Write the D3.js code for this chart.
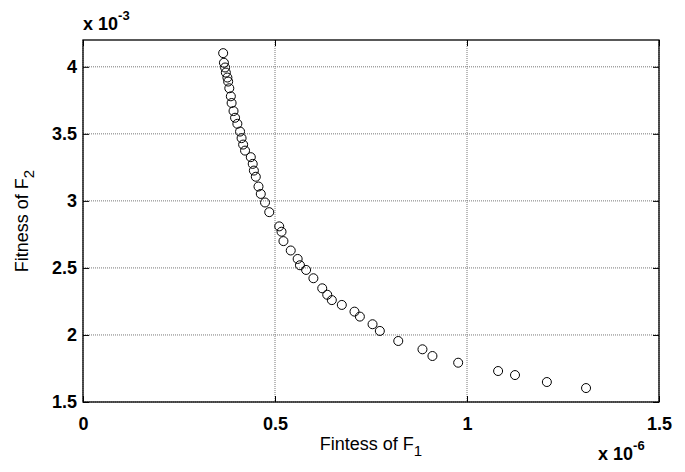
<!DOCTYPE html>
<html>
<head>
<meta charset="utf-8">
<script src="https://cdn.jsdelivr.net/npm/d3@7"></script>
<style>
  body { margin: 0; background: #fff; }
  text { font-family: "Liberation Sans", Arial, sans-serif; }
</style>
</head>
<body>
<div id="chart"></div>
<script>
// data (F1 in 1e-6, F2 in 1e-3)
var f1 = [0.365, 0.367, 0.370, 0.372, 0.376, 0.378, 0.381, 0.385, 0.387, 0.392,
          0.396, 0.402, 0.409, 0.413, 0.417, 0.422, 0.437, 0.442, 0.445, 0.450,
          0.457, 0.463, 0.474, 0.485, 0.511, 0.517, 0.522, 0.541, 0.559, 0.565,
          0.581, 0.600, 0.623, 0.636, 0.648, 0.674, 0.707, 0.721, 0.754, 0.773,
          0.821, 0.884, 0.910, 0.977, 1.081, 1.125, 1.208, 1.310];
var f2 = [4.102, 4.030, 3.995, 3.957, 3.920, 3.890, 3.840, 3.780, 3.730, 3.670,
          3.620, 3.575, 3.517, 3.468, 3.420, 3.375, 3.326, 3.276, 3.226, 3.180,
          3.107, 3.052, 2.988, 2.916, 2.810, 2.770, 2.700, 2.630, 2.567, 2.520,
          2.485, 2.423, 2.348, 2.300, 2.260, 2.224, 2.174, 2.137, 2.080, 2.030,
          1.955, 1.893, 1.843, 1.793, 1.731, 1.701, 1.649, 1.604];
var xTicks = [0, 0.5, 1, 1.5];
var yTicks = [1.5, 2, 2.5, 3, 3.5, 4];

var width = 685,
    height = 472,
    pLeft = 83, pRight = 659, pTop = 40, pBottom = 402;

var svg = d3.select("#chart").append("svg")
    .attr("width", width)
    .attr("height", height)
    .style("background", "#fff");

var x = d3.scaleLinear().domain([0, 1.5]).range([pLeft, pRight]);
var y = d3.scaleLinear().domain([1.5, 4.2]).range([pBottom, pTop]);
var fmt = d3.format("~g");

/* grid */
svg.append("g").selectAll("line.vg")
    .data(xTicks)
  .enter().append("line")
    .attr("x1", function(d){return x(d)}).attr("x2", function(d){return x(d)})
    .attr("y1", pTop).attr("y2", pBottom)
    .attr("stroke", "#777").attr("stroke-dasharray", "1,1");
svg.append("g").selectAll("line.hg")
    .data(yTicks)
  .enter().append("line")
    .attr("y1", function(d){return y(d)}).attr("y2", function(d){return y(d)})
    .attr("x1", pLeft).attr("x2", pRight)
    .attr("stroke", "#777").attr("stroke-dasharray", "1,1");

/* axes with inward ticks */
function styleAxis(g) {
  g.select(".domain").remove();
  g.selectAll(".tick line").attr("stroke", "#000");
  g.selectAll("text")
    .attr("fill", "#000")
    .style("font-size", "18px")
    .style("font-weight", "bold")
    .style("font-family", "'Liberation Sans', Arial, sans-serif");
}
svg.append("g").attr("transform", "translate(0," + pBottom + ")")
    .call(d3.axisBottom(x).tickValues(xTicks).tickSize(-6).tickPadding(15).tickFormat(fmt))
    .call(styleAxis);
svg.append("g").attr("transform", "translate(0," + pTop + ")")
    .call(d3.axisTop(x).tickValues(xTicks).tickSize(-6).tickFormat(""))
    .call(styleAxis);
svg.append("g").attr("transform", "translate(" + pLeft + ",0)")
    .call(d3.axisLeft(y).tickValues(yTicks).tickSize(-6).tickPadding(6).tickFormat(fmt))
    .call(styleAxis);
svg.append("g").attr("transform", "translate(" + pRight + ",0)")
    .call(d3.axisRight(y).tickValues(yTicks).tickSize(-6).tickFormat(""))
    .call(styleAxis);

/* box */
svg.append("rect")
    .attr("x", pLeft).attr("y", pTop)
    .attr("width", pRight - pLeft).attr("height", pBottom - pTop)
    .attr("fill", "none").attr("stroke", "#000").attr("stroke-width", 1.3);

/* points */
svg.append("g").selectAll("circle")
    .data(f1)
  .enter().append("circle")
    .attr("cx", function(d){return x(d)})
    .attr("cy", function(d, i){return y(f2[i])})
    .attr("r", 4.5)
    .attr("fill", "none")
    .attr("stroke", "#000")
    .attr("stroke-width", 1);

/* axis labels */
var xl = svg.append("text")
    .attr("x", (pLeft + pRight) / 2).attr("y", 450)
    .attr("text-anchor", "middle")
    .style("font-size", "18px");
xl.append("tspan").text("Fintess of F");
xl.append("tspan").attr("dy", 6).style("font-size", "15px").text("1");

var yl = svg.append("text")
    .attr("transform", "translate(28," + ((pTop + pBottom) / 2) + ") rotate(-90)")
    .attr("text-anchor", "middle")
    .style("font-size", "18px");
yl.append("tspan").text("Fitness of F");
yl.append("tspan").attr("dy", 6).style("font-size", "15px").text("2");

/* exponent labels */
var e3 = svg.append("text")
    .attr("x", pLeft).attr("y", 30)
    .style("font-size", "18px").style("font-weight", "bold");
e3.append("tspan").text("x 10");
e3.append("tspan").attr("dy", -10).style("font-size", "13px").text("-3");

var e6 = svg.append("text")
    .attr("x", 598).attr("y", 460)
    .style("font-size", "18px").style("font-weight", "bold");
e6.append("tspan").text("x 10");
e6.append("tspan").attr("dy", -10).style("font-size", "13px").text("-6");
</script>
</body>
</html>
